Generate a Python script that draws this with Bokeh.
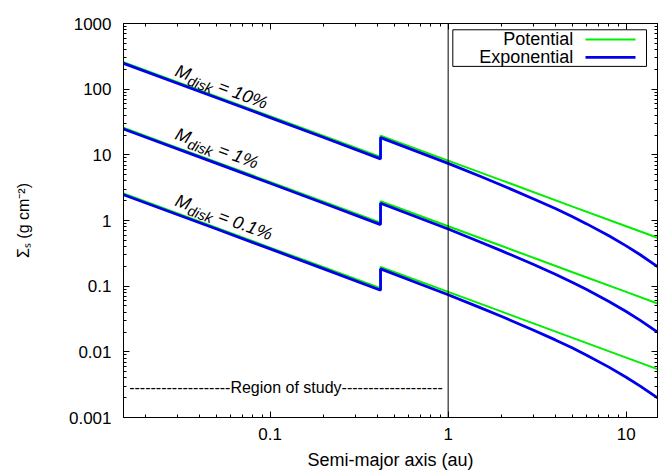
import math
from bokeh.plotting import figure
from bokeh.models import (FixedTicker, CustomJSTickFormatter, LogAxis, Span, Label,
                          BoxAnnotation, Arrow)
from bokeh.embed import file_html
from bokeh.resources import INLINE

FONT = "Liberation Sans"

# ---------------- data ----------------
x_pot = [0.015, 0.03, 0.1, 0.2, 0.417, 0.417, 1.0, 2.0, 5.0, 10.0, 15.0]
pot_10 = [258, 129, 38.7, 19.35, 9.28, 19.6, 8.17, 4.09, 1.63, 0.817, 0.545]
pot_1 = [25.8, 12.9, 3.87, 1.94, 0.928, 1.96, 0.817, 0.409, 0.163, 0.0817, 0.0545]
pot_01 = [2.58, 1.29, 0.387, 0.194, 0.0928, 0.196, 0.0817, 0.0409, 0.0163, 0.00817, 0.00545]

x_exp = [0.015, 0.05, 0.1, 0.2, 0.417, 0.417, 0.7, 1.0, 1.5, 2.0, 3.0, 4.0, 5.0, 6.0, 8.0, 10.0, 12.0, 15.0]
exp_10 = [247, 74.1, 36.9, 18.35, 8.67, 18.3, 10.71, 7.41, 4.75, 3.45, 2.15, 1.52, 1.14, 0.888, 0.585, 0.411, 0.301, 0.199]
exp_1 = [24.7, 7.41, 3.69, 1.835, 0.867, 1.83, 1.071, 0.741, 0.475, 0.345, 0.215, 0.152, 0.114, 0.0888, 0.0585, 0.0411, 0.0301, 0.0199]
exp_01 = [2.47, 0.741, 0.369, 0.1835, 0.0867, 0.183, 0.1071, 0.0741, 0.0475, 0.0345, 0.0215, 0.0152, 0.0114, 0.00888, 0.00585, 0.00411, 0.00301, 0.00199]

disk_labels = ["10%", "1%", "0.1%"]
snow_line_edge = 1.0  # vertical line position (au)

x_major = [0.1, 1, 10]
y_major = [0.001, 0.01, 0.1, 1, 10, 100, 1000]

X_RANGE = (0.015, 15)
Y_RANGE = (0.001, 1000)

GREEN = "#00ee00"
BLUE = "#0000ee"

W, H = 664, 472
ML, MR, MT, MB = 123, 7, 23, 54

p = figure(width=W, height=H, x_axis_type="log", y_axis_type="log",
           x_range=X_RANGE, y_range=Y_RANGE, output_backend="svg",
           toolbar_location=None, min_border_left=ML, min_border_right=MR,
           min_border_top=MT, min_border_bottom=MB)
p.grid.visible = False
p.outline_line_color = "black"
p.outline_line_width = 1
p.background_fill_color = "white"
p.border_fill_color = "white"


def minors(lo, hi):
    out = []
    e = math.floor(math.log10(lo))
    while 10 ** e <= hi:
        for m in range(2, 10):
            v = m * 10 ** e
            if lo < v < hi:
                out.append(v)
        e += 1
    return out


def style_axis(ax, labels=True):
    ax.axis_line_color = "black"
    ax.major_tick_in = 6
    ax.major_tick_out = 0
    ax.minor_tick_in = 3
    ax.minor_tick_out = 0
    ax.major_tick_line_color = "black"
    ax.minor_tick_line_color = "black"
    ax.major_label_text_font = FONT
    ax.major_label_text_font_size = "17px"
    ax.major_label_text_color = "black"
    ax.major_label_standoff = 12
    ax.axis_label_text_font = FONT
    ax.axis_label_text_font_style = "normal"
    ax.axis_label_text_color = "black"
    if labels:
        ax.formatter = CustomJSTickFormatter(code="return tick.toString();")
    else:
        ax.formatter = CustomJSTickFormatter(code="return '';")
        ax.major_label_standoff = 0


p.xaxis.ticker = FixedTicker(ticks=x_major, minor_ticks=minors(*X_RANGE))
p.yaxis.ticker = FixedTicker(ticks=y_major, minor_ticks=minors(*Y_RANGE))
for ax in p.xaxis:
    style_axis(ax)
    ax.major_label_standoff = 10
    ax.axis_label = "Semi-major axis (au)"
    ax.axis_label_text_font_size = "18px"
    ax.axis_label_standoff = 7
for ax in p.yaxis:
    style_axis(ax)
    ax.axis_label = "Σₛ (g cm⁻²)"
    ax.axis_label_text_font_size = "16px"
    ax.axis_label_standoff = 34

top_ax = LogAxis(ticker=FixedTicker(ticks=x_major, minor_ticks=minors(*X_RANGE)))
style_axis(top_ax, labels=False)
p.add_layout(top_ax, "above")
right_ax = LogAxis(ticker=FixedTicker(ticks=y_major, minor_ticks=minors(*Y_RANGE)))
style_axis(right_ax, labels=False)
p.add_layout(right_ax, "right")

# ---------------- curves ----------------
for ys in (pot_10, pot_1, pot_01):
    p.line(x_pot, ys, line_color=GREEN, line_width=2)
for ys in (exp_10, exp_1, exp_01):
    p.line(x_exp, ys, line_color=BLUE, line_width=2.8)

p.add_layout(Span(location=snow_line_edge, dimension="height", line_color="black", line_width=1))

# ---------------- geometry helpers ----------------
FW = W - ML - MR
FH = H - MT - MB
px_dec_x = FW / math.log10(X_RANGE[1] / X_RANGE[0])
px_dec_y = FH / math.log10(Y_RANGE[1] / Y_RANGE[0])


def page_to_data(px, py):
    fx = px - ML
    fy = py - MT
    lx = math.log10(X_RANGE[0]) + fx / px_dec_x
    ly = math.log10(Y_RANGE[1]) - fy / px_dec_y
    return 10 ** lx, 10 ** ly


WID = {"M": .833, "d": .556, "i": .222, "s": .5, "k": .5, " ": .278, "=": .584,
       "1": .556, "0": .556, "%": .889, ".": .278}


def tw(t, size):
    return sum(WID.get(ch, .556) for ch in t) * size


def rich(x, y, pieces, angle, size, style="normal"):
    d = 0.0
    ca, sa = math.cos(angle), math.sin(angle)
    for text, sc, shift, lead in pieces:
        fs = size * sc
        d += lead * size
        h = shift * size
        ox = d * ca - h * sa
        oy = d * sa + h * ca
        p.add_layout(Label(x=x, y=y, x_offset=ox, y_offset=oy, text=text, angle=angle,
                           text_font=FONT, text_font_size=f"{fs:.1f}px",
                           text_font_style=style, text_color="black",
                           text_align="left", text_baseline="alphabetic"))
        d += tw(text, fs)


# ---------------- disk-mass labels ----------------
ang = -math.atan2(px_dec_y, px_dec_x)
label_page = [(175.5, 69.5), (175.5, 133.0), (175.5, 199.5)]
for (px, py), lab in zip(label_page, disk_labels):
    x, y = page_to_data(px, py)
    rich(x, y, [("M", 1, 0, 0), ("disk", 0.8, -0.3, 0), ("= " + lab, 1, 0, 0.278)],
         ang, 18, "italic")

# ---------------- region of study ----------------
rx, ry = page_to_data(285.5, 387.8)
p.add_layout(Label(x=rx, y=ry, text="-" * 19 + "Region of study" + "-" * 19,
                   text_font=FONT, text_font_size="16px", text_color="black",
                   text_align="center", text_baseline="middle"))

# ---------------- legend ----------------
bl, bt = page_to_data(452.3, 29.3)
br, bb = page_to_data(646.0, 66.0)
p.add_layout(BoxAnnotation(left=bl, right=br, top=bt, bottom=bb, fill_color="white",
                           fill_alpha=1, line_color="black", line_width=1, line_alpha=1))
for name, color, py in (("Potential", GREEN, 39.0), ("Exponential", BLUE, 57.0)):
    lx, ly = page_to_data(572.7, py)
    p.add_layout(Label(x=lx, y=ly, text=name, text_font=FONT, text_font_size="18px",
                       text_color="black", text_align="right", text_baseline="middle"))
    sx0, _ = page_to_data(585, py)
    sx1, _ = page_to_data(635, py)
    p.add_layout(Arrow(x_start=sx0, y_start=ly, x_end=sx1, y_end=ly, end=None,
                       line_color=color, line_width=2.8 if color == BLUE else 2))

open("out.html", "w").write(file_html(p, INLINE))
